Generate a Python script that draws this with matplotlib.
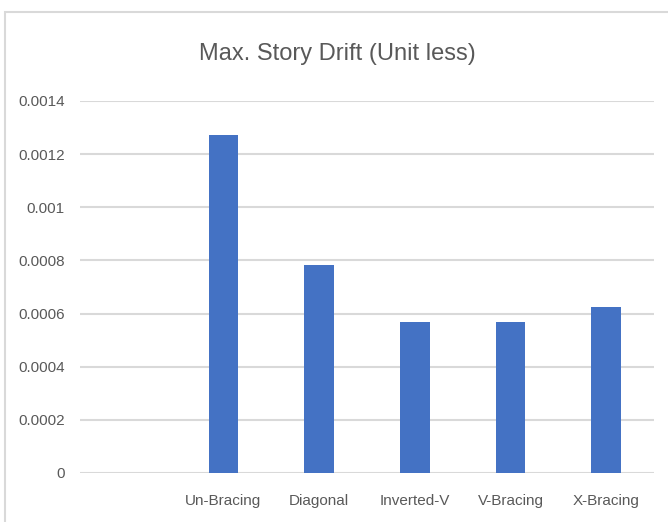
import matplotlib.pyplot as plt
from matplotlib.patches import Rectangle

plt.rcParams["font.family"] = ["Liberation Sans", "DejaVu Sans"]

# Categories (first slot is blank in the original chart)
categories = ["", "Un-Bracing", "Diagonal", "Inverted-V", "V-Bracing", "X-Bracing"]
drift = [0.0, 0.001272, 0.000781, 0.000569, 0.000569, 0.000625]
yticks = [0, 0.0002, 0.0004, 0.0006, 0.0008, 0.001, 0.0012, 0.0014]
ytick_labels = ["0", "0.0002", "0.0004", "0.0006", "0.0008", "0.001", "0.0012", "0.0014"]

W, H = 668, 522
fig = plt.figure(figsize=(W / 100, H / 100), dpi=100)

# chart border (cropped at right and bottom)
fig.patches.append(
    Rectangle((5 / W, -0.1), 1.2, 1 - 12 / H + 0.1, transform=fig.transFigure,
              fill=False, edgecolor="#d9d9d9", lw=1.5)
)

ax = fig.add_axes([80 / W, 1 - 473 / H, (654 - 80) / W, (473 - 101) / H])
x = range(len(categories))
ax.bar(x, drift, width=0.31, color="#4472c4", zorder=3)

ax.set_xlim(-0.5, len(categories) - 0.5)
ax.set_ylim(0, 0.0014)
ax.set_yticks(yticks)
ax.set_yticklabels(ytick_labels)
ax.set_xticks(list(x))
ax.set_xticklabels(categories)
ax.yaxis.grid(True, color="#d9d9d9", lw=1.5, zorder=0)
ax.tick_params(axis="both", length=0, labelsize=11, colors="#595959")
ax.tick_params(axis="y", pad=11)
ax.tick_params(axis="x", pad=15)
for s in ax.spines.values():
    s.set_visible(False)

fig.text(337 / W, 1 - 54 / H, "Max. Story Drift (Unit less)", ha="center",
         va="center", fontsize=17, color="#595959")

fig.savefig("out.png", dpi=100)
